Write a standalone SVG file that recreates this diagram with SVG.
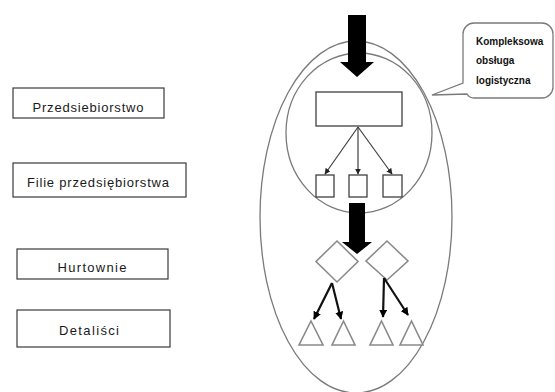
<svg xmlns="http://www.w3.org/2000/svg" width="555" height="392" viewBox="0 0 555 392">
  <style>
    .label { fill: none; stroke: #3a3a3a; stroke-width: 1.2; }
    .lt { font-family: "Liberation Sans", Arial, sans-serif; font-size: 13px; fill: #1a1a1a; text-anchor: middle; }
    .ring { fill: none; stroke: #7a7a7a; stroke-width: 1.3; }
    .box { fill: #fff; stroke: #404040; stroke-width: 1.3; }
    .shape { fill: #fff; stroke: #8a8a8a; stroke-width: 1.6; }
    .thin { stroke: #404040; stroke-width: 1.2; fill: none; }
    .bold { stroke: #111; stroke-width: 2.2; fill: none; }
    .block { fill: #000; }
    .ct { font-family: "Liberation Sans", Arial, sans-serif; font-size: 10px; font-weight: bold; fill: #111; }
  </style>
  <defs>
    <marker id="tip" viewBox="0 0 10 10" refX="9" refY="5" markerWidth="6" markerHeight="6" orient="auto" markerUnits="userSpaceOnUse">
      <path d="M0 0 L10 5 L0 10 Z" fill="#222"/>
    </marker>
    <marker id="tipBold" viewBox="0 0 10 10" refX="9" refY="5" markerWidth="8" markerHeight="8" orient="auto" markerUnits="userSpaceOnUse">
      <path d="M0 0 L10 5 L0 10 Z" fill="#000"/>
    </marker>
  </defs>

  <rect width="555" height="392" fill="#fff"/>

  <!-- level labels -->
  <g id="label-przedsiebiorstwo">
    <rect class="label" x="13" y="88" width="151" height="30"/>
    <text class="lt" x="88" y="112" textLength="111" lengthAdjust="spacing">Przedsiebiorstwo</text>
  </g>
  <g id="label-filie">
    <rect class="label" x="13" y="163" width="173" height="34"/>
    <text class="lt" x="98" y="187" textLength="142" lengthAdjust="spacing">Filie przedsiębiorstwa</text>
  </g>
  <g id="label-hurtownie">
    <rect class="label" x="17" y="249" width="151" height="30"/>
    <text class="lt" x="92" y="272" textLength="69" lengthAdjust="spacing">Hurtownie</text>
  </g>
  <g id="label-detalisci">
    <rect class="label" x="17" y="310" width="153" height="37"/>
    <text class="lt" x="89" y="335" textLength="60" lengthAdjust="spacing">Detaliści</text>
  </g>

  <!-- enclosing ellipses -->
  <g id="outer-ring">
    <ellipse class="ring" cx="356" cy="217" rx="96" ry="176"/>
  </g>
  <g id="inner-ring">
    <ellipse class="ring" cx="359" cy="133" rx="73" ry="80"/>
  </g>

  <!-- callout -->
  <g id="callout">
    <path class="ring" d="M474 23 H542 A11 11 0 0 1 553 34 V87 A11 11 0 0 1 542 98 H474 A8 8 0 0 1 467 94 L432 95 L463 83 V34 A11 11 0 0 1 474 23 Z" fill="#fff"/>
    <text class="ct" x="476" y="45">Kompleksowa</text>
    <text class="ct" x="476" y="64">obsługa</text>
    <text class="ct" x="476" y="84">logistyczna</text>
  </g>

  <!-- nodes -->
  <g id="head-office">
    <rect class="box" x="316" y="92" width="86" height="34"/>
  </g>
  <g id="branch-1"><rect class="box" x="316" y="175" width="18" height="22"/></g>
  <g id="branch-2"><rect class="box" x="349" y="175" width="18" height="22"/></g>
  <g id="branch-3"><rect class="box" x="383" y="175" width="19" height="22"/></g>

  <g id="wholesaler-1"><path class="shape" d="M337 241 L358 261.5 L337 282 L316 261.5 Z"/></g>
  <g id="wholesaler-2"><path class="shape" d="M387 241 L408 261 L387 280 L366 261 Z"/></g>

  <g id="retailer-1"><path class="shape" d="M311 321 L323 345 L299 345 Z"/></g>
  <g id="retailer-2"><path class="shape" d="M343.5 321 L355 345 L332 345 Z"/></g>
  <g id="retailer-3"><path class="shape" d="M381.5 321 L393 345 L370 345 Z"/></g>
  <g id="retailer-4"><path class="shape" d="M411.5 321 L423 345 L400 345 Z"/></g>

  <!-- connectors -->
  <g id="connectors">
    <path class="block" d="M348 15 H366 V62 H374 L357 77 L340 62 H348 Z"/>
    <path class="block" d="M349 203 H365 V242 H372 L357 254 L342 242 H349 Z"/>

    <line class="thin" x1="358" y1="127" x2="325" y2="174" marker-end="url(#tip)"/>
    <line class="thin" x1="358" y1="127" x2="358" y2="174" marker-end="url(#tip)"/>
    <line class="thin" x1="358" y1="127" x2="392" y2="174" marker-end="url(#tip)"/>

    <line class="bold" x1="332" y1="283" x2="314" y2="319" marker-end="url(#tipBold)"/>
    <line class="bold" x1="332" y1="283" x2="341" y2="319" marker-end="url(#tipBold)"/>
    <line class="bold" x1="384" y1="278" x2="383" y2="317" marker-end="url(#tipBold)"/>
    <line class="bold" x1="384" y1="278" x2="408" y2="315" marker-end="url(#tipBold)"/>
  </g>
</svg>
